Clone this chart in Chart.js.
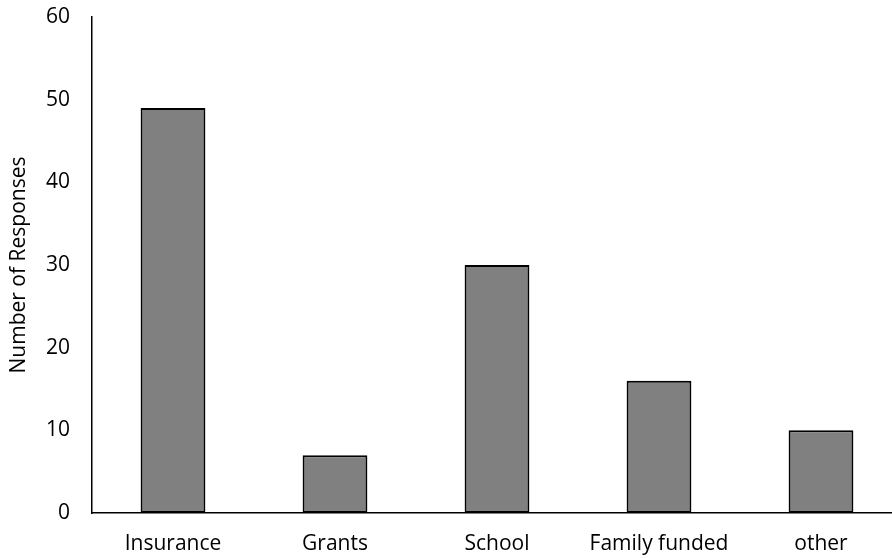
<!DOCTYPE html>
<html>
<head>
<meta charset="utf-8">
<script src="https://cdn.jsdelivr.net/npm/chart.js@4"></script>
<style>
  html, body { margin: 0; padding: 0; background: #fff; overflow: hidden; }
  #wrap { width: 902px; height: 558px; }
</style>
</head>
<body>
<div id="wrap"><canvas id="myChart" width="902" height="558"></canvas></div>
<script>
const categories = ['Insurance', 'Grants', 'School', 'Family funded', 'other'];
const responses = [49, 7, 30, 16, 10];
const yTicks = [0, 10, 20, 30, 40, 50, 60];

Chart.defaults.font.family = '"Open Sans", "Noto Sans", sans-serif';
Chart.defaults.font.size = 21;
Chart.defaults.color = '#000';

const chartdata = {
  labels: categories,
  datasets: [{
    label: 'Responses',
    data: responses,
    backgroundColor: '#808080',
    borderColor: '#000',
    borderWidth: 2,
    borderSkipped: false,
    categoryPercentage: 1,
    barPercentage: 0.4
  }]
};

const config = {
  type: 'bar',
  data: chartdata,
  options: {
    responsive: false,
    animation: false,
    layout: { padding: { top: 17, right: 0, bottom: 0, left: 0 } },
    plugins: {
      legend: { display: false },
      tooltip: { enabled: false }
    },
    scales: {
      x: {
        grid: { display: false, drawTicks: false },
        border: { color: '#000', width: 1.5 },
        ticks: { padding: 18, maxRotation: 0 },
        afterFit: function(scale) {
          scale.height = 45;
          scale.paddingLeft = 0;
          scale.paddingRight = 0;
        }
      },
      y: {
        min: 0,
        max: 60,
        afterBuildTicks: function(scale) {
          scale.ticks = yTicks.map(v => ({ value: v }));
        },
        grid: { display: false, drawTicks: false },
        border: { color: '#000', width: 1.5 },
        ticks: { padding: 22 },
        title: {
          display: true,
          text: 'Number of Responses',
          padding: { top: 6, bottom: 4 }
        },
        afterFit: function(scale) {
          scale.width = 92;
          scale.paddingTop = 0;
          scale.paddingBottom = 0;
        }
      }
    }
  }
};

var myChart = new Chart(document.getElementById('myChart'), config);
</script>
</body>
</html>
